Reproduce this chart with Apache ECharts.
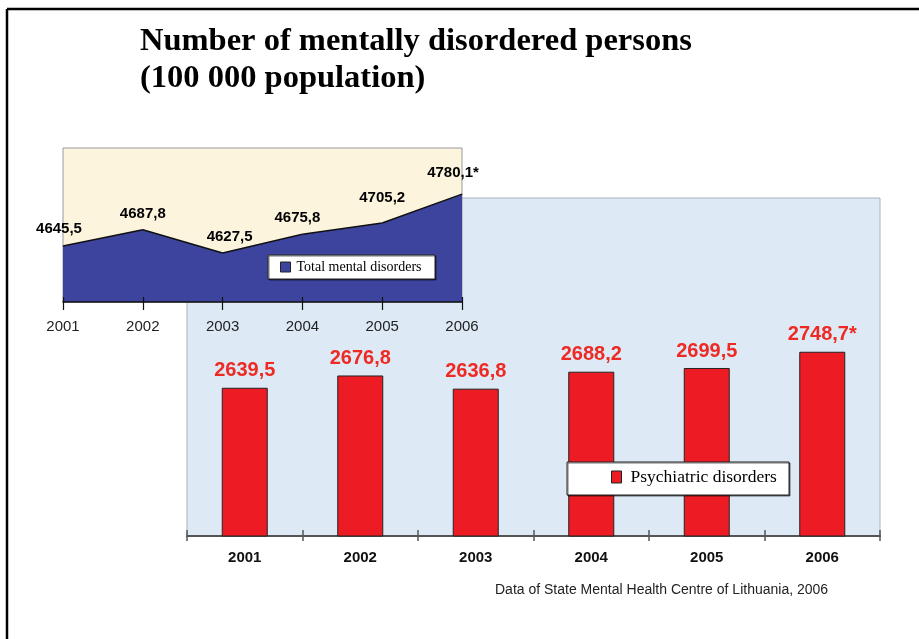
<!DOCTYPE html>
<html>
<head>
<meta charset="utf-8">
<script src="https://cdn.jsdelivr.net/npm/echarts@6/dist/echarts.min.js"></script>
<style>
  html, body { margin: 0; padding: 0; background: #ffffff; }
  #chart { width: 919px; height: 639px; }
</style>
</head>
<body>
<div id="chart"></div>
<script>
// Years shared by both panels
const years = ['2001', '2002', '2003', '2004', '2005', '2006'];
// Total mental disorders per 100 000 population
const totalDisorders = [4645.5, 4687.8, 4627.5, 4675.8, 4705.2, 4780.1];
// Psychiatric disorders per 100 000 population
const psychiatricDisorders = [2639.5, 2676.8, 2636.8, 2688.2, 2699.5, 2748.7];
// Footnote marks appended to the value labels (2006 is provisional)
const valueNotes = ['', '', '', '', '', '*'];

const totalName = 'Total mental disorders';
const psychName = 'Psychiatric disorders';

// Small per-point label nudges for the area panel so labels clear the outline
const totalLabelNudge = [[-4, -1], [0, 0], [7, 0], [-5, 0], [0, -9], [-9, -5]];

const fmt = (v, i) => v.toFixed(1).replace('.', ',') + valueNotes[i];

const sansFont = '"Liberation Sans", Arial, sans-serif';
const serifFont = '"Liberation Serif", "DejaVu Serif", serif';

const chart = echarts.init(document.getElementById('chart'), null, { renderer: 'canvas' });

chart.setOption({
  animation: false,
  backgroundColor: '#ffffff',
  title: {
    text: 'Number of mentally disordered persons\n(100 000 population)',
    left: 140,
    top: 23,
    padding: 0,
    textStyle: {
      fontFamily: serifFont,
      fontWeight: 'bold',
      fontSize: 32.5,
      lineHeight: 37,
      color: '#000000'
    }
  },
  grid: [
    { // bar panel
      left: 187, top: 198, width: 693, height: 338,
      show: true, backgroundColor: '#dde9f4',
      borderColor: '#a7b2bd', borderWidth: 1, z: 0
    },
    { // area panel, drawn over the bar panel
      left: 63, top: 148, width: 399, height: 154,
      show: true, backgroundColor: '#fdf4de',
      borderColor: '#9a9a9a', borderWidth: 1, z: 3
    }
  ],
  xAxis: [
    {
      gridIndex: 0, type: 'category', data: years, boundaryGap: true, position: 'bottom',
      axisLine: { lineStyle: { color: '#555555', width: 2 } },
      axisTick: { show: true, length: 5, lineStyle: { color: '#555555', width: 1.5 } },
      axisLabel: {
        fontFamily: sansFont, fontWeight: 'bold', fontSize: 15, color: '#111111', margin: 14
      }
    },
    {
      gridIndex: 1, type: 'category', data: years, boundaryGap: false, position: 'bottom', z: 6,
      axisLine: { lineStyle: { color: '#111111', width: 1.5 } },
      axisTick: { show: true, length: 8, lineStyle: { color: '#111111', width: 1.2 } },
      axisLabel: { fontFamily: sansFont, fontSize: 15, color: '#222222', margin: 17 }
    },
    // inner halves of the crossing tick marks
    {
      gridIndex: 0, type: 'category', data: years, boundaryGap: true, position: 'bottom',
      axisLine: { show: false },
      axisTick: { show: true, inside: true, length: 6, lineStyle: { color: '#555555', width: 1.5 } },
      axisLabel: { show: false }
    },
    {
      gridIndex: 1, type: 'category', data: years, boundaryGap: false, position: 'bottom', z: 6,
      axisLine: { show: false },
      axisTick: { show: true, inside: true, length: 5, lineStyle: { color: '#111111', width: 1.2 } },
      axisLabel: { show: false }
    }
  ],
  yAxis: [
    { gridIndex: 0, type: 'value', min: 2190, max: 3215, show: false },
    { gridIndex: 1, type: 'value', min: 4500, max: 4900, show: false }
  ],
  legend: [
    {
      data: [totalName], left: 280, top: 260, padding: 0, z: 9,
      icon: 'rect', itemWidth: 10, itemHeight: 10, itemGap: 6,
      itemStyle: { color: '#3c449e', borderColor: '#222222', borderWidth: 1 },
      textStyle: { fontFamily: serifFont, fontSize: 14, color: '#000000', padding: [0, 0, 0, 1] },
      selectedMode: false
    },
    {
      data: [psychName], left: 611, top: 468, padding: 0, z: 9,
      icon: 'rect', itemWidth: 10, itemHeight: 12, itemGap: 8,
      itemStyle: { color: '#ed1c24', borderColor: '#222222', borderWidth: 1 },
      textStyle: { fontFamily: serifFont, fontSize: 17.5, color: '#000000', padding: [0, 0, 0, 4] },
      selectedMode: false
    }
  ],
  graphic: [
    // page frame (top and left rules)
    { type: 'line', z: 20, shape: { x1: 7, y1: 9, x2: 919, y2: 9 }, style: { stroke: '#000', lineWidth: 2.5 } },
    { type: 'line', z: 20, shape: { x1: 7, y1: 9, x2: 7, y2: 639 }, style: { stroke: '#000', lineWidth: 2.5 } },
    // legend boxes
    { type: 'rect', z: 8, shape: { x: 268, y: 255, width: 167, height: 24 },
      style: { fill: '#ffffff', stroke: '#222222', lineWidth: 1, shadowColor: 'rgba(0,0,0,0.55)', shadowOffsetX: 1, shadowOffsetY: 1 } },
    { type: 'rect', z: 8, shape: { x: 567, y: 462, width: 222, height: 33 },
      style: { fill: '#ffffff', stroke: '#222222', lineWidth: 1, shadowColor: 'rgba(0,0,0,0.55)', shadowOffsetX: 1, shadowOffsetY: 1 } },
    // source note
    { type: 'text', z: 20, left: 495, top: 583,
      style: { text: 'Data of State Mental Health Centre of Lithuania, 2006',
        font: '14px "Liberation Sans", Arial, sans-serif', fill: '#222222' } }
  ],
  series: [
    {
      name: psychName, type: 'bar', xAxisIndex: 0, yAxisIndex: 0, z: 2,
      barWidth: 46,
      data: psychiatricDisorders,
      itemStyle: { color: '#ed1c24', borderColor: '#222222', borderWidth: 1 },
      label: {
        show: true, position: 'top', distance: 7,
        fontFamily: sansFont, fontWeight: 'bold', fontSize: 20, color: '#ee2a24',
        formatter: p => fmt(p.value, p.dataIndex)
      }
    },
    {
      name: totalName, type: 'line', xAxisIndex: 1, yAxisIndex: 1, z: 5,
      data: totalDisorders.map((v, i) => ({
        value: v,
        label: { offset: totalLabelNudge[i] }
      })),
      symbol: 'circle', symbolSize: 1,
      itemStyle: { color: '#3c449e' },
      lineStyle: { color: '#111111', width: 1.5 },
      areaStyle: { color: '#3c449e', opacity: 1 },
      label: {
        show: true, position: 'top', distance: 8,
        fontFamily: sansFont, fontWeight: 'bold', fontSize: 15, color: '#000000',
        formatter: p => fmt(p.value, p.dataIndex)
      }
    }
  ]
});
</script>
</body>
</html>
